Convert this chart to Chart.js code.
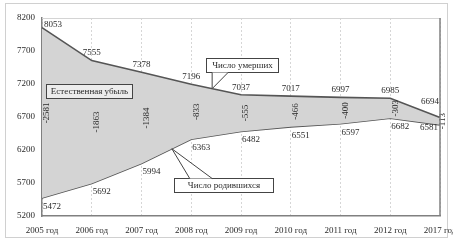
<!DOCTYPE html>
<html>
<head>
<meta charset="utf-8">
<script src="https://cdn.jsdelivr.net/npm/chart.js@4.4.1/dist/chart.umd.min.js"></script>
<style>
  html, body { margin: 0; padding: 0; background: #fff; }
  canvas { display: block; }
</style>
</head>
<body>
<canvas id="myChart" width="453" height="242"></canvas>
<script>
const years = ["2005 год", "2006 год", "2007 год", "2008 год", "2009 год", "2010 год", "2011 год", "2012 год", "2017 год"];
const deaths = [8053, 7555, 7378, 7196, 7037, 7017, 6997, 6985, 6694];
const births = [5472, 5692, 5994, 6363, 6482, 6551, 6597, 6682, 6581];
const naturalDecrease = [-2581, -1863, -1384, -833, -555, -466, -400, -303, -113];
const yMin = 5200;
const yMax = 8200;
const yStep = 500;

const FAMILY = '"Liberation Serif", "DejaVu Serif", serif';
const FONT = "9px " + FAMILY;
const TEXT = "#2a2a2a";
const LINE = "#555";
const AXIS = "#808080";

// frame around the picture + right/top edges of the plot
const framePlugin = {
  id: "frame",
  beforeDraw(chart) {
    const ctx = chart.ctx;
    ctx.save();
    ctx.fillStyle = "#fff";
    ctx.fillRect(0, 0, chart.width, chart.height);
    ctx.strokeStyle = "#d0d0d0";
    ctx.lineWidth = 1;
    ctx.strokeRect(5.5, 3.5, 442, 234);
    ctx.restore();
  },
  afterDraw(chart) {
    const { ctx, chartArea: a } = chart;
    ctx.save();
    ctx.strokeStyle = "#d4d4d4";
    ctx.lineWidth = 1;
    ctx.beginPath();
    ctx.moveTo(a.left, a.top + 0.5);
    ctx.lineTo(a.right, a.top + 0.5);
    ctx.stroke();
    ctx.strokeStyle = AXIS;
    ctx.lineWidth = 1.5;
    ctx.beginPath();
    ctx.moveTo(a.right, a.top);
    ctx.lineTo(a.right, a.bottom);
    ctx.stroke();
    ctx.restore();
  },
};

const valueLabels = {
  id: "valueLabels",
  afterDatasetsDraw(chart) {
    const { ctx, scales: { x, y } } = chart;
    const last = years.length - 1;
    ctx.save();
    ctx.font = FONT;
    ctx.fillStyle = TEXT;

    deaths.forEach((v, i) => {
      const px = x.getPixelForValue(i);
      const py = y.getPixelForValue(v);
      if (i === 0) {
        ctx.textAlign = "left";
        ctx.textBaseline = "middle";
        ctx.fillText(v, px + 2, py - 3);
      } else if (i === last) {
        ctx.textAlign = "right";
        ctx.textBaseline = "bottom";
        ctx.fillText(v, px - 1, py - 11);
      } else {
        ctx.textAlign = "center";
        ctx.textBaseline = "bottom";
        ctx.fillText(v, px, py - 3);
      }
    });

    births.forEach((v, i) => {
      const px = x.getPixelForValue(i);
      const py = y.getPixelForValue(v);
      ctx.textBaseline = "top";
      if (i === last) {
        ctx.textAlign = "right";
        ctx.fillText(v, px - 2, py - 2);
      } else {
        ctx.textAlign = "left";
        ctx.fillText(v, px + 1, py + 4);
      }
    });

    // rotated natural decrease values
    naturalDecrease.forEach((v, i) => {
      const px = x.getPixelForValue(i) + (i === last ? 3 : 5);
      const py = y.getPixelForValue((deaths[i] + births[i]) / 2);
      ctx.save();
      ctx.translate(px, py);
      ctx.rotate(-Math.PI / 2);
      ctx.textAlign = "center";
      ctx.textBaseline = "middle";
      ctx.fillText(v, 0, 0);
      ctx.restore();
    });
    ctx.restore();
  },
};

// callout boxes, positioned in data coordinates (category index, value)
const callouts = [
  { text: "Естественная убыль", box: [0.08, 7200, 1.81, 6988], fill: "#ececec" },
  { text: "Число умерших", box: [3.30, 7594, 4.74, 7382], fill: "#fff",
    tip: [3.42, 7129], base: [3.42, 3.74], side: "bottom" },
  { text: "Число родившихся", box: [2.65, 5776, 4.64, 5564], fill: "#fff",
    tip: [2.61, 6219], base: [2.97, 3.42], side: "top" },
];

const calloutPlugin = {
  id: "callouts",
  afterDatasetsDraw(chart) {
    const { ctx, scales: { x, y } } = chart;
    ctx.save();
    ctx.font = FONT;
    ctx.lineWidth = 1;
    ctx.strokeStyle = "#444";
    callouts.forEach((c) => {
      const l = Math.round(x.getPixelForValue(c.box[0])) + 0.5;
      const t = Math.round(y.getPixelForValue(c.box[1])) + 0.5;
      const r = Math.round(x.getPixelForValue(c.box[2])) + 0.5;
      const b = Math.round(y.getPixelForValue(c.box[3])) + 0.5;
      ctx.fillStyle = c.fill;
      ctx.fillRect(l, t, r - l, b - t);
      ctx.strokeRect(l, t, r - l, b - t);
      if (c.tip) {
        const ey = c.side === "bottom" ? b : t;
        const b1 = x.getPixelForValue(c.base[0]);
        const b2 = x.getPixelForValue(c.base[1]);
        const tx = x.getPixelForValue(c.tip[0]);
        const ty = y.getPixelForValue(c.tip[1]);
        ctx.beginPath();
        ctx.moveTo(b1, ey);
        ctx.lineTo(tx, ty);
        ctx.lineTo(b2, ey);
        ctx.closePath();
        ctx.fillStyle = "#fff";
        ctx.fill();
        ctx.beginPath();
        ctx.moveTo(b1, ey);
        ctx.lineTo(tx, ty);
        ctx.lineTo(b2, ey);
        ctx.stroke();
      }
      ctx.fillStyle = TEXT;
      ctx.textAlign = "center";
      ctx.textBaseline = "middle";
      ctx.fillText(c.text, (l + r) / 2, (t + b) / 2 + 0.5);
    });
    ctx.restore();
  },
};

const yTicks = [];
for (let v = yMin; v <= yMax; v += yStep) yTicks.push(v);

new Chart(document.getElementById("myChart"), {
  type: "line",
  data: {
    labels: years,
    datasets: [
      {
        label: "Число умерших",
        data: deaths,
        borderColor: LINE,
        borderWidth: 1.6,
        backgroundColor: "#d4d4d4",
        fill: "+1",
        pointRadius: 0,
        tension: 0,
      },
      {
        label: "Число родившихся",
        data: births,
        borderColor: LINE,
        borderWidth: 1.6,
        pointRadius: 0,
        fill: false,
        tension: 0,
      },
    ],
  },
  options: {
    responsive: false,
    animation: false,
    layout: { padding: { left: 0, right: 13, top: 18, bottom: 0 } },
    plugins: {
      legend: { display: false },
      tooltip: { enabled: false },
    },
    scales: {
      x: {
        offset: false,
        grid: { color: "#d6d6d6", drawTicks: false, lineWidth: 1 },
        border: { color: AXIS, width: 1.5, dash: [2, 2] },
        ticks: {
          padding: 9,
          maxRotation: 0,
          autoSkip: false,
          color: TEXT,
          font: { family: FAMILY, size: 9 },
        },
        afterFit(s) {
          s.height = 26;
          s.paddingLeft = 0;
          s.paddingRight = 0;
        },
      },
      y: {
        min: yMin,
        max: yMax,
        grid: { display: false, drawTicks: false },
        border: { color: AXIS, width: 1.5 },
        afterBuildTicks(s) {
          s.ticks = yTicks.map((v) => ({ value: v }));
        },
        ticks: {
          padding: 7,
          color: TEXT,
          font: { family: FAMILY, size: 9 },
          callback: (v) => String(v),
        },
        afterFit(s) {
          s.width = 42;
        },
      },
    },
  },
  plugins: [framePlugin, valueLabels, calloutPlugin],
});
</script>
</body>
</html>
